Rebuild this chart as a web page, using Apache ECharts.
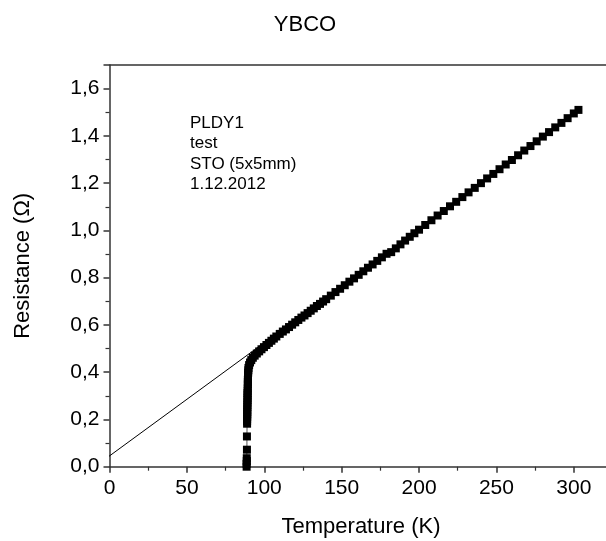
<!DOCTYPE html>
<html>
<head>
<meta charset="utf-8">
<script src="https://cdn.jsdelivr.net/npm/echarts@6/dist/echarts.min.js"></script>
<style>
html, body { margin: 0; padding: 0; background: #fff; }
#main { width: 606px; height: 541px; }
</style>
</head>
<body>
<div id="main"></div>
<script>
// temperature (K) and resistance (Ohm)
var tempK = [
	88.6, 88.6, 88.7, 88.7, 88.8, 88.8, 88.9, 88.9, 88.9, 89.0,
	89.0, 89.0, 89.0, 89.1, 89.1, 89.1, 89.2, 89.2, 89.2, 89.2,
	89.3, 89.3, 89.4, 89.4, 89.4, 89.5, 89.5, 89.6, 89.7, 89.8,
	90.2, 90.8, 91.6, 92.6, 93.8, 95.2, 96.7, 98.2, 99.8, 101.4,
	103.0, 104.6, 106.2, 107.8, 110, 112, 114, 116, 118, 120,
	122, 124, 126, 128, 130, 132, 134, 136, 138, 140,
	143, 146, 149, 152, 155, 158, 161, 164, 167, 170,
	173, 176, 179, 182, 185, 188, 191, 194, 197, 200,
	204, 208, 212, 216, 220, 224, 228, 232, 236, 240,
	244, 248, 252, 256, 260, 264, 268, 272, 276, 280,
	284, 288, 292, 296, 300, 303
];
var resistance = [
	0.000, 0.012, 0.024, 0.036, 0.072, 0.128, 0.182, 0.192, 0.202, 0.212,
	0.222, 0.232, 0.242, 0.252, 0.262, 0.272, 0.282, 0.292, 0.302, 0.312,
	0.322, 0.332, 0.348, 0.358, 0.368, 0.378, 0.388, 0.398, 0.408, 0.418,
	0.430, 0.441, 0.451, 0.461, 0.470, 0.479, 0.488, 0.497, 0.506, 0.515,
	0.524, 0.533, 0.542, 0.551, 0.562, 0.572, 0.581, 0.591, 0.601, 0.611,
	0.621, 0.631, 0.640, 0.650, 0.660, 0.670, 0.680, 0.689, 0.699, 0.709,
	0.724, 0.739, 0.753, 0.768, 0.783, 0.797, 0.812, 0.827, 0.842, 0.856,
	0.871, 0.886, 0.901, 0.908, 0.924, 0.941, 0.957, 0.973, 0.988, 1.003,
	1.023, 1.043, 1.063, 1.082, 1.102, 1.121, 1.141, 1.161, 1.180, 1.200,
	1.220, 1.239, 1.259, 1.279, 1.298, 1.318, 1.338, 1.357, 1.377, 1.397,
	1.416, 1.436, 1.455, 1.475, 1.495, 1.510
];
// straight line drawn through the normal-state part
var fitT = [-4.3, 104];
var fitR = [0.025, 0.544];

var yTicks = ['0,0', '0,2', '0,4', '0,6', '0,8', '1,0', '1,2', '1,4', '1,6'];
var xTicks = ['0', '50', '100', '150', '200', '250', '300'];
var noteLines = ['PLDY1', 'test', 'STO (5x5mm)', '1.12.2012'];

var font = 'Liberation Sans, Arial, sans-serif';

var points = [];
for (var i = 0; i < tempK.length; i++) {
	points.push([tempK[i], resistance[i]]);
}
var fitPoints = [];
for (var j = 0; j < fitT.length; j++) {
	fitPoints.push([fitT[j], fitR[j]]);
}

var chart = echarts.init(document.getElementById('main'));

var axisLine = { show: true, lineStyle: { color: '#333', width: 1.5 } };

chart.setOption({
	backgroundColor: '#fff',
	animation: false,
	title: {
		text: 'YBCO',
		left: 300,
		textAlign: 'center',
		top: 9,
		textStyle: { fontFamily: font, fontSize: 22, fontWeight: 'normal', color: '#000' }
	},
	graphic: [{
		type: 'text',
		left: 190,
		top: 113,
		style: {
			text: noteLines.join('\n'),
			fontFamily: font,
			fontSize: 17,
			lineHeight: 20.5,
			fill: '#000'
		}
	}],
	grid: {
		left: 109.5,
		width: 503,
		top: 65,
		bottom: 74.3,
		containLabel: false,
		outerBoundsMode: 'none'
	},
	xAxis: [{
		type: 'value',
		min: 0,
		max: 325,
		interval: 50,
		name: 'Temperature (K)',
		nameLocation: 'middle',
		nameGap: 49,
		nameTextStyle: { fontFamily: font, fontSize: 22, color: '#000' },
		axisLine: axisLine,
		axisTick: { show: true, inside: false, length: 6, lineStyle: { color: '#333', width: 1.5 } },
		minorTick: { show: true, splitNumber: 2, length: 4, lineStyle: { color: '#333', width: 1.2 } },
		splitLine: { show: false },
		axisLabel: {
			margin: 11,
			fontFamily: font,
			fontSize: 21,
			color: '#000',
			showMaxLabel: false,
			formatter: function (v) {
				var k = Math.round(v / 50);
				return xTicks[k] !== undefined ? xTicks[k] : '';
			}
		}
	}, {
		type: 'value',
		position: 'top',
		min: 0,
		max: 325,
		axisLine: axisLine,
		axisTick: { show: false },
		axisLabel: { show: false },
		splitLine: { show: false }
	}],
	yAxis: {
		type: 'value',
		min: 0,
		max: 1.7,
		interval: 0.2,
		name: 'Resistance (Ω)',
		nameLocation: 'middle',
		nameGap: 76,
		nameTextStyle: { fontFamily: font, fontSize: 22, color: '#000' },
		axisLine: axisLine,
		axisTick: { show: true, inside: false, length: 6, lineStyle: { color: '#333', width: 1.5 } },
		minorTick: { show: true, splitNumber: 2, length: 4, lineStyle: { color: '#333', width: 1.2 } },
		splitLine: { show: false },
		axisLabel: {
			margin: 10,
			fontFamily: font,
			fontSize: 21,
			color: '#000',
			showMaxLabel: false,
			formatter: function (v) {
				var k = Math.round(v / 0.2);
				return yTicks[k] !== undefined ? yTicks[k] : '';
			}
		}
	},
	series: [{
		type: 'line',
		data: fitPoints,
		symbol: 'none',
		clip: false,
		lineStyle: { color: '#000', width: 1 },
		z: 2
	}, {
		type: 'line',
		data: points,
		symbol: 'rect',
		symbolSize: 8,
		itemStyle: { color: '#000' },
		lineStyle: { color: '#555', width: 1 },
		z: 3
	}]
});
</script>
</body>
</html>
